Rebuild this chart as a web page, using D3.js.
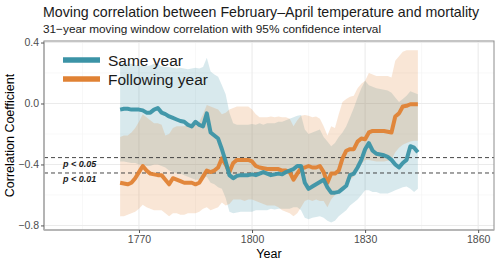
<!DOCTYPE html>
<html lang="en">
<head>
    <meta charset="utf-8">
    <title>Moving correlation</title>
    <script type="text/javascript" src="https://d3js.org/d3.v7.min.js"></script>
    <style type="text/css">
        body { margin: 0; background: #fff; }
        svg { font-family: "Liberation Sans", Arial, sans-serif; }
    </style>
</head>
<body>
<script type="text/javascript">

    var years = d3.range(1765, 1845);

    var sameYear = [-0.04, -0.035, -0.035, -0.04, -0.04, -0.04, -0.045, -0.06, -0.06, -0.04,
        -0.03, -0.06, -0.07, -0.085, -0.095, -0.105, -0.115, -0.12, -0.14, -0.15,
        -0.12, -0.14, -0.15, -0.065, -0.19, -0.21, -0.23, -0.30, -0.38, -0.47,
        -0.49, -0.475, -0.47, -0.47, -0.47, -0.465, -0.47, -0.46, -0.45, -0.46,
        -0.47, -0.465, -0.46, -0.465, -0.45, -0.44, -0.43, -0.41, -0.41, -0.52,
        -0.56, -0.545, -0.53, -0.515, -0.50, -0.55, -0.585, -0.585, -0.58, -0.56,
        -0.54, -0.47, -0.46, -0.42, -0.37, -0.30, -0.26, -0.31, -0.33, -0.335,
        -0.34, -0.35, -0.37, -0.40, -0.42, -0.39, -0.37, -0.28, -0.29, -0.32];

    var sameUpper = [0.26, 0.265, 0.26, 0.26, 0.255, 0.25, 0.25, 0.245, 0.25, 0.26,
        0.26, 0.245, 0.24, 0.24, 0.235, 0.23, 0.235, 0.23, 0.225, 0.23,
        0.235, 0.23, 0.24, 0.30, 0.21, 0.19, 0.175, 0.12, 0.06, -0.06,
        -0.13, -0.14, -0.14, -0.14, -0.14, -0.135, -0.14, -0.13, -0.14, -0.13,
        -0.13, -0.13, -0.12, -0.12, -0.11, -0.10, -0.09, -0.08, -0.075, -0.17,
        -0.20, -0.19, -0.18, -0.17, -0.22, -0.25, -0.28, -0.26, -0.22, -0.19,
        -0.15, -0.09, -0.03, 0.04, 0.10, 0.15, 0.12, 0.11, 0.10, 0.095,
        0.09, 0.085, 0.07, 0.04, 0.01, 0.03, 0.05, 0.08, 0.07, 0.06];

    var sameLower = [-0.38, -0.38, -0.385, -0.39, -0.39, -0.40, -0.40, -0.41, -0.41, -0.40,
        -0.40, -0.41, -0.42, -0.44, -0.45, -0.46, -0.46, -0.47, -0.48, -0.49,
        -0.50, -0.50, -0.49, -0.48, -0.52, -0.53, -0.55, -0.56, -0.62, -0.71,
        -0.72, -0.715, -0.71, -0.71, -0.71, -0.71, -0.70, -0.70, -0.70, -0.70,
        -0.69, -0.695, -0.69, -0.69, -0.69, -0.69, -0.68, -0.68, -0.70, -0.75,
        -0.76, -0.75, -0.745, -0.74, -0.75, -0.77, -0.78, -0.77, -0.74, -0.72,
        -0.70, -0.67, -0.65, -0.63, -0.60, -0.57, -0.57, -0.58, -0.58, -0.59,
        -0.59, -0.59, -0.58, -0.57, -0.56, -0.55, -0.545, -0.56, -0.58, -0.56];

    var nextYear = [-0.52, -0.525, -0.53, -0.52, -0.49, -0.45, -0.41, -0.44, -0.46, -0.465,
        -0.47, -0.47, -0.50, -0.53, -0.49, -0.50, -0.51, -0.52, -0.52, -0.52,
        -0.53, -0.52, -0.48, -0.44, -0.45, -0.44, -0.42, -0.36, -0.40, -0.45,
        -0.39, -0.37, -0.37, -0.37, -0.37, -0.38, -0.41, -0.42, -0.425, -0.43,
        -0.43, -0.43, -0.43, -0.44, -0.44, -0.45, -0.50, -0.46, -0.425, -0.42,
        -0.41, -0.42, -0.42, -0.41, -0.45, -0.52, -0.46, -0.46, -0.44, -0.36,
        -0.31, -0.30, -0.30, -0.25, -0.23, -0.235, -0.19, -0.18, -0.18, -0.18,
        -0.18, -0.185, -0.19, -0.085, -0.065, -0.02, -0.015, -0.005, -0.005, -0.005];

    var nextUpper = [-0.22, -0.21, -0.21, -0.19, -0.16, -0.12, -0.07, -0.09, -0.11, -0.13,
        -0.13, -0.14, -0.21, -0.20, -0.16, -0.15, -0.15, -0.15, -0.14, -0.135,
        -0.13, -0.12, -0.07, -0.01, -0.02, -0.03, -0.04, -0.07, -0.06, -0.04,
        -0.03, -0.02, -0.02, -0.02, -0.02, -0.04, -0.07, -0.09, -0.09, -0.09,
        -0.085, -0.09, -0.085, -0.09, -0.09, -0.10, -0.15, -0.11, -0.08, -0.075,
        -0.08, -0.09, -0.085, -0.10, -0.15, -0.21, -0.15, -0.16, -0.07, 0.01,
        0.03, 0.045, 0.05, 0.10, 0.13, 0.15, 0.20, 0.19, 0.18, 0.18,
        0.18, 0.18, 0.17, 0.28, 0.31, 0.34, 0.35, 0.35, 0.35, 0.35];

    var nextLower = [-0.74, -0.74, -0.73, -0.72, -0.71, -0.69, -0.665, -0.68, -0.69, -0.70,
        -0.70, -0.70, -0.72, -0.74, -0.72, -0.72, -0.73, -0.73, -0.72, -0.72,
        -0.72, -0.71, -0.69, -0.68, -0.70, -0.69, -0.68, -0.65, -0.67, -0.66,
        -0.63, -0.63, -0.63, -0.64, -0.63, -0.63, -0.64, -0.65, -0.66, -0.67,
        -0.67, -0.67, -0.68, -0.70, -0.71, -0.72, -0.74, -0.72, -0.68, -0.64,
        -0.63, -0.64, -0.63, -0.64, -0.64, -0.68, -0.63, -0.60, -0.58, -0.55,
        -0.52, -0.50, -0.48, -0.44, -0.40, -0.37, -0.37, -0.375, -0.38, -0.38,
        -0.38, -0.375, -0.37, -0.32, -0.29, -0.27, -0.26, -0.25, -0.245, -0.245];

    var xTicks = [1770, 1800, 1830, 1860];
    var xMinor = [1755, 1785, 1815, 1845];
    var yTicks = [-0.8, -0.4, 0.0, 0.4];
    var yMinor = [-0.6, -0.2, 0.2];
    var sigLevels = [-0.355, -0.456];
    var sigLabels = ["p < 0.05", "p < 0.01"];
    var seriesNames = ["Same year", "Following year"];
    var colors = ["#3b93a6", "#e08234"];

    var width = 500, height = 263;
    var pLeft = 44, pRight = 494, pTop = 41, pBottom = 230;

    var x = d3.scaleLinear().domain([1744.8, 1864.2]).range([pLeft, pRight]);
    var y = d3.scaleLinear().domain([-0.83, 0.41]).range([pBottom, pTop]);

    var svg = d3.select("body")
        .append("svg")
        .attr("width", width)
        .attr("height", height);

    // grid
    svg.selectAll(".xminor").data(xMinor).enter().append("line")
        .attr("x1", d => x(d)).attr("x2", d => x(d))
        .attr("y1", pTop).attr("y2", pBottom)
        .attr("stroke", "#f3f3f3").attr("stroke-width", 0.6);
    svg.selectAll(".yminor").data(yMinor).enter().append("line")
        .attr("x1", pLeft).attr("x2", pRight)
        .attr("y1", d => y(d)).attr("y2", d => y(d))
        .attr("stroke", "#f3f3f3").attr("stroke-width", 0.6);
    svg.selectAll(".xmajor").data(xTicks).enter().append("line")
        .attr("x1", d => x(d)).attr("x2", d => x(d))
        .attr("y1", pTop).attr("y2", pBottom)
        .attr("stroke", "#ebebeb").attr("stroke-width", 1.1);
    svg.selectAll(".ymajor").data(yTicks).enter().append("line")
        .attr("x1", pLeft).attr("x2", pRight)
        .attr("y1", d => y(d)).attr("y2", d => y(d))
        .attr("stroke", "#ebebeb").attr("stroke-width", 1.1);

    var series = [
        { name: seriesNames[0], r: sameYear, lo: sameLower, hi: sameUpper, color: colors[0] },
        { name: seriesNames[1], r: nextYear, lo: nextLower, hi: nextUpper, color: colors[1] }
    ];

    var area = d3.area()
        .x((d, i) => x(years[i]))
        .y0(d => y(d[0]))
        .y1(d => y(d[1]));

    series.forEach(function(s) {
        svg.append("path")
            .datum(s.lo.map((v, i) => [v, s.hi[i]]))
            .attr("d", area)
            .attr("fill", s.color)
            .attr("fill-opacity", 0.2);
    });

    // significance lines
    svg.selectAll(".sig").data(sigLevels).enter().append("line")
        .attr("x1", pLeft).attr("x2", pRight)
        .attr("y1", d => y(d)).attr("y2", d => y(d))
        .attr("stroke", "#333").attr("stroke-width", 0.9)
        .attr("stroke-dasharray", "4,3");
    svg.selectAll(".siglab").data(sigLevels).enter().append("text")
        .attr("x", 63)
        .attr("y", d => y(d) + 9)
        .attr("font-size", 9)
        .attr("font-weight", "bold")
        .attr("font-style", "italic")
        .attr("fill", "#1a1a1a")
        .text((d, i) => sigLabels[i]);

    var line = d3.line()
        .x((d, i) => x(years[i]))
        .y(d => y(d));

    [series[1], series[0]].forEach(function(s) {
        svg.append("path")
            .datum(s.r)
            .attr("d", line)
            .attr("fill", "none")
            .attr("stroke", s.color)
            .attr("stroke-width", 4)
            .attr("stroke-opacity", 0.95)
            .attr("stroke-linejoin", "round");
    });

    // panel border and axes
    svg.append("rect")
        .attr("x", pLeft).attr("y", pTop)
        .attr("width", pRight - pLeft).attr("height", pBottom - pTop)
        .attr("fill", "none").attr("stroke", "#8c8c8c").attr("stroke-width", 1);
    svg.append("line")
        .attr("x1", pLeft).attr("x2", pLeft).attr("y1", pTop).attr("y2", pBottom)
        .attr("stroke", "#b0b0b0").attr("stroke-width", 1.6);
    svg.append("line")
        .attr("x1", pLeft).attr("x2", pRight).attr("y1", pBottom).attr("y2", pBottom)
        .attr("stroke", "#b0b0b0").attr("stroke-width", 1.6);

    var fmt = d3.format(".1f");
    var yAxis = svg.append("g")
        .attr("transform", "translate(" + pLeft + ",0)")
        .call(d3.axisLeft(y).tickValues(yTicks).tickSize(3).tickPadding(2)
            .tickFormat(d => fmt(d).replace("-", "\u2212")));
    var xAxis = svg.append("g")
        .attr("transform", "translate(0," + pBottom + ")")
        .call(d3.axisBottom(x).tickValues(xTicks).tickSize(3).tickPadding(3)
            .tickFormat(d3.format("d")));
    [yAxis, xAxis].forEach(function(a) {
        a.select(".domain").remove();
        a.selectAll("line").attr("stroke", "#555");
        a.selectAll("text").attr("fill", "#4d4d4d")
            .attr("font-size", 10.5)
            .attr("font-family", "Liberation Sans, Arial, sans-serif");
    });

    // axis titles
    svg.append("text")
        .attr("x", (pLeft + pRight) / 2).attr("y", 258)
        .attr("text-anchor", "middle")
        .attr("font-size", 12.5)
        .text("Year");
    svg.append("text")
        .attr("transform", "translate(14," + ((pTop + pBottom) / 2) + ") rotate(-90)")
        .attr("text-anchor", "middle")
        .attr("font-size", 12.5)
        .text("Correlation Coefficient");

    // titles
    svg.append("text")
        .attr("x", 43).attr("y", 17)
        .attr("font-size", 14.2)
        .attr("fill", "#1a1a1a")
        .text("Moving correlation between February\u2013April temperature and mortality");
    svg.append("text")
        .attr("x", 43).attr("y", 33)
        .attr("font-size", 11.8)
        .attr("fill", "#1a1a1a")
        .text("31\u2212year moving window correlation with 95% confidence interval");

    // legend
    var legend = svg.selectAll(".legend").data(series).enter().append("g")
        .attr("transform", (d, i) => "translate(63," + (60 + i * 19) + ")");
    legend.append("line")
        .attr("x1", 0).attr("x2", 37)
        .attr("stroke", d => d.color)
        .attr("stroke-width", 5.5);
    legend.append("text")
        .attr("x", 45).attr("y", 5.5)
        .attr("font-size", 15.5)
        .attr("fill", "#1a1a1a")
        .text(d => d.name);

</script>
</body>
</html>
